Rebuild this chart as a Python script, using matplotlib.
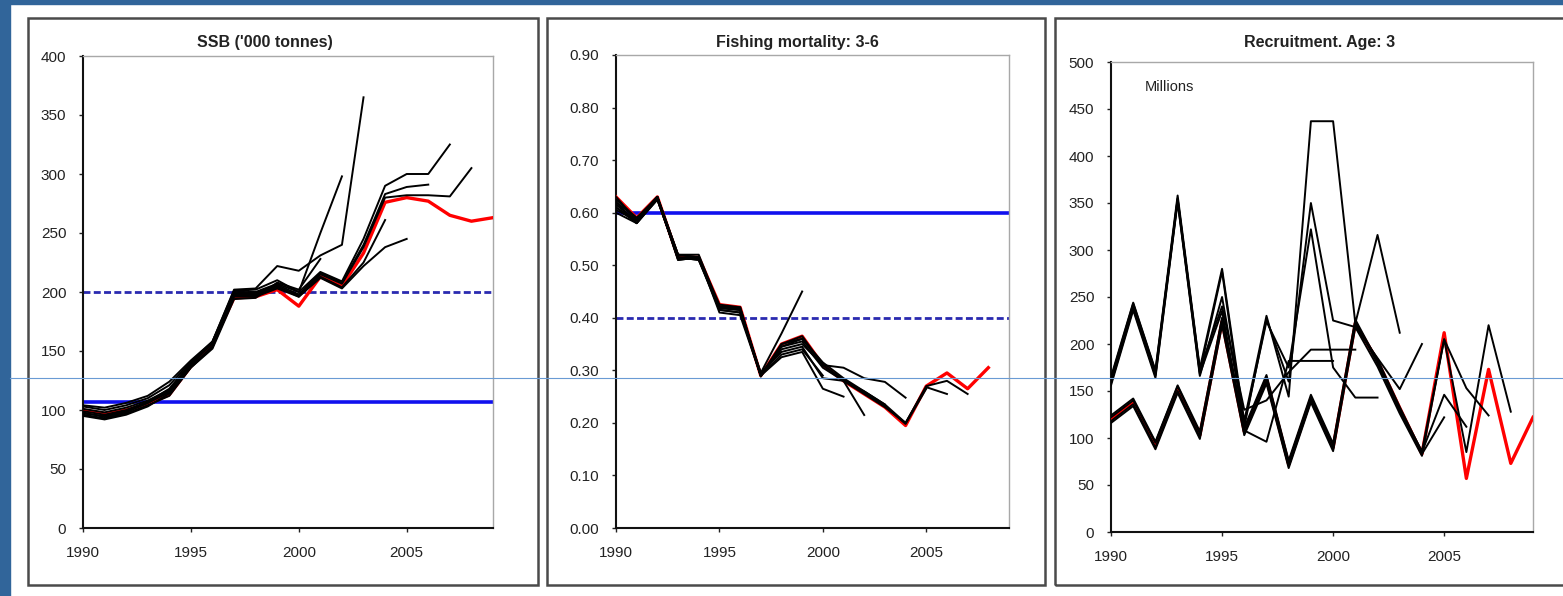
import matplotlib.pyplot as plt
from matplotlib.patches import Rectangle
from matplotlib.lines import Line2D

plt.rcParams['font.family'] = ['Liberation Sans', 'DejaVu Sans']

W, H = 1563, 596
FIRST_YEAR = 1990

# SSB ('000 tonnes): final run and retrospective runs, all starting 1990
ssb_final = [100, 97, 100, 105, 113, 137, 156, 195, 196, 202, 188, 213, 205, 233, 276, 280, 277, 265, 260, 263]
ssb_retro = [
    [97, 95, 99, 106, 116, 138, 158, 198, 198, 205, 196, 215, 207, 238, 280, 282, 282, 281, 305],
    [99, 96, 100, 107, 118, 140, 157, 200, 200, 207, 200, 217, 209, 245, 290, 300, 300, 325],
    [101, 98, 102, 108, 117, 139, 156, 199, 199, 206, 198, 216, 208, 240, 283, 289, 291],
    [96, 93, 97, 104, 112, 136, 153, 196, 196, 203, 196, 212, 203, 222, 238, 245],
    [98, 94, 98, 106, 115, 137, 154, 197, 197, 204, 197, 213, 204, 225, 261],
    [103, 100, 104, 110, 121, 141, 158, 202, 203, 222, 218, 231, 240, 365],
    [104, 102, 106, 112, 124, 142, 158, 201, 202, 210, 200, 250, 298],
    [95, 92, 96, 103, 114, 136, 152, 194, 195, 208, 202, 228],
]
ssb_solid_ref = 107
ssb_dashed_ref = 200

# Fishing mortality, ages 3-6
f_final = [0.63, 0.59, 0.63, 0.515, 0.515, 0.425, 0.42, 0.29, 0.35, 0.365, 0.31, 0.28,
           0.255, 0.23, 0.195, 0.27, 0.295, 0.265, 0.305]
f_retro = [
    [0.63, 0.585, 0.63, 0.52, 0.515, 0.425, 0.42, 0.29, 0.35, 0.36, 0.315, 0.285, 0.26, 0.235, 0.2, 0.27, 0.28, 0.255],
    [0.625, 0.59, 0.625, 0.515, 0.51, 0.42, 0.415, 0.29, 0.345, 0.36, 0.31, 0.28, 0.255, 0.23, 0.2, 0.268, 0.255],
    [0.62, 0.58, 0.63, 0.51, 0.515, 0.42, 0.42, 0.288, 0.35, 0.365, 0.31, 0.282, 0.258, 0.232, 0.198, 0.265],
    [0.61, 0.585, 0.628, 0.512, 0.512, 0.418, 0.415, 0.29, 0.34, 0.35, 0.31, 0.305, 0.285, 0.278, 0.248],
    [0.62, 0.59, 0.63, 0.52, 0.52, 0.422, 0.418, 0.292, 0.345, 0.355, 0.305, 0.28, 0.26, 0.235],
    [0.60, 0.58, 0.625, 0.515, 0.515, 0.415, 0.41, 0.295, 0.335, 0.345, 0.285, 0.28, 0.215],
    [0.605, 0.585, 0.63, 0.51, 0.515, 0.41, 0.405, 0.29, 0.325, 0.335, 0.265, 0.25],
    [0.61, 0.58, 0.625, 0.515, 0.51, 0.415, 0.41, 0.29, 0.33, 0.34, 0.29],
    [0.615, 0.585, 0.63, 0.52, 0.515, 0.42, 0.415, 0.295, 0.37, 0.45],
]
f_solid_ref = 0.60
f_dashed_ref = 0.40

# Recruitment at age 3 (millions)
rec_final = [120, 138, 92, 152, 103, 224, 107, 163, 72, 142, 90, 222, 182, 132, 83, 212, 57, 173, 73, 122]
rec_retro = [
    [124, 142, 96, 156, 107, 228, 111, 167, 76, 146, 94, 226, 182, 130, 86, 205, 85, 220, 128],
    [116, 134, 88, 148, 99, 220, 103, 158, 68, 138, 86, 218, 176, 126, 81, 205, 153, 124],
    [122, 140, 95, 155, 105, 223, 109, 165, 74, 143, 92, 221, 184, 133, 85, 146, 112],
    [118, 136, 90, 150, 101, 226, 105, 161, 70, 140, 88, 224, 179, 129, 83, 122],
    [160, 240, 168, 355, 170, 277, 112, 227, 160, 350, 225, 218, 185, 152, 200],
    [165, 244, 172, 358, 174, 280, 118, 230, 144, 437, 437, 222, 316, 212],
    [156, 236, 164, 351, 166, 250, 115, 224, 175, 322, 175, 143, 143],
    [163, 243, 171, 354, 173, 240, 130, 140, 170, 194, 194, 194],
    [158, 238, 166, 352, 168, 235, 108, 96, 182, 182, 182],
]

titles = ["SSB ('000 tonnes)", "Fishing mortality: 3-6", "Recruitment. Age: 3"]


def fig_rect(x0, y0, x1, y1):
    # pixel box (top-left origin) -> figure fraction
    return [x0 / W, 1 - y1 / H, (x1 - x0) / W, (y1 - y0) / H]


def years_for(values):
    return list(range(FIRST_YEAR, FIRST_YEAR + len(values)))


def draw_panel(ax, final, retro, ymax, ystep, fmt, solid=None, dashed=None):
    ax.plot(years_for(final), final, color='#ff0000', lw=2.4, zorder=3)
    for run in retro:
        ax.plot(years_for(run), run, color='black', lw=1.4, zorder=4)
    if solid is not None:
        ax.axhline(solid, color='#1010ee', lw=2.6, zorder=2)
    if dashed is not None:
        ax.axhline(dashed, color='#2a2ab0', lw=2.0, dashes=(2.5, 1.2), zorder=2)
    ax.set_xlim(1990, 2009)
    ax.set_ylim(0, ymax)
    ax.set_xticks([1990, 1995, 2000, 2005])
    n = int(round(ymax / ystep))
    ticks = [i * ystep for i in range(n + 1)]
    ax.set_yticks(ticks)
    ax.set_yticklabels([fmt % t for t in ticks])
    ax.tick_params(axis='both', direction='out', length=3, width=1,
                   colors='#222222', labelsize=11)
    ax.tick_params(axis='y', pad=9)
    ax.tick_params(axis='x', pad=10)
    for side in ('left', 'bottom'):
        ax.spines[side].set_color('#111111')
        ax.spines[side].set_linewidth(1.5)
    for side in ('top', 'right'):
        ax.spines[side].set_color('#a8a8a8')
        ax.spines[side].set_linewidth(1.0)


fig = plt.figure(figsize=(W / 100, H / 100), dpi=100)
fig.patch.set_facecolor('white')

# slide background bands
fig.add_artist(Rectangle((0, 0), 10 / W, 1, transform=fig.transFigure,
                         color='#31659a', zorder=0))
fig.add_artist(Rectangle((0, 1 - 4 / H), 1, 4 / H, transform=fig.transFigure,
                         color='#31659a', zorder=0))

# chart frames
for x0, x1 in [(28, 538), (547, 1045), (1055, 1580)]:
    fig.add_artist(Rectangle((x0 / W, 1 - 585 / H), (x1 - x0) / W, (585 - 18) / H,
                             transform=fig.transFigure, fill=False,
                             ec='#4a4a4a', lw=1.8, zorder=1))

ax1 = fig.add_axes(fig_rect(83, 56, 493, 528))
ax2 = fig.add_axes(fig_rect(616, 55, 1009, 528))
ax3 = fig.add_axes(fig_rect(1111, 62, 1533, 532))

draw_panel(ax1, ssb_final, ssb_retro, 400, 50, '%d', ssb_solid_ref, ssb_dashed_ref)
draw_panel(ax2, f_final, f_retro, 0.9, 0.1, '%.2f', f_solid_ref, f_dashed_ref)
draw_panel(ax3, rec_final, rec_retro, 500, 50, '%d')

for (x, y), title in zip([(265, 43), (797, 43), (1320, 43)], titles):
    fig.text(x / W, 1 - y / H, title, ha='center', va='center',
             fontsize=11.5, fontweight='bold', color='#222222')

fig.text(1145 / W, 1 - 87 / H, 'Millions', ha='left', va='center',
         fontsize=10.5, color='#222222')

# thin guide line across the slide
fig.add_artist(Line2D([10 / W, 1], [1 - 378 / H, 1 - 378 / H],
                      transform=fig.transFigure, color='#6a9bd4', lw=0.8, zorder=10))

fig.savefig('out.png', dpi=100)
